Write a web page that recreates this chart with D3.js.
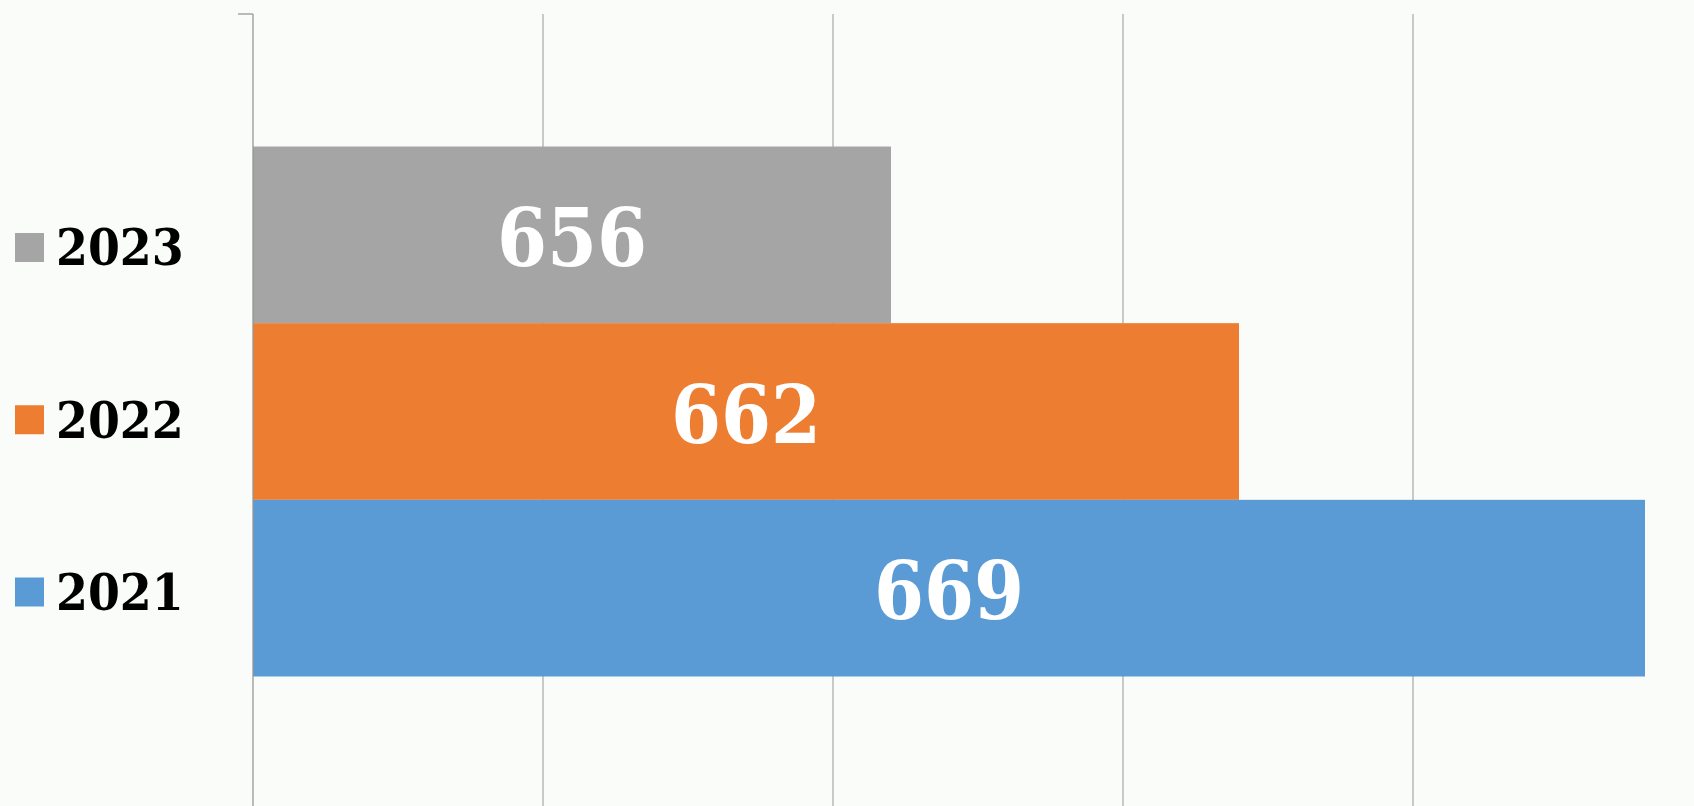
<!DOCTYPE html>
<html>
<head>
<meta charset="utf-8">
<script src="https://cdn.jsdelivr.net/npm/d3@7"></script>
<style>
    html, body { margin: 0; padding: 0; background: #fafcfa; overflow: hidden; }
    svg { display: block; }
    .lbl { font-family: "DejaVu Serif Condensed", "DejaVu Serif", serif; font-stretch: condensed; font-weight: bold; }
</style>
</head>
<body>
<svg id="chart" width="1694" height="806"></svg>
<script>
// chart data
const series = ['2023', '2022', '2021'];
const values = [656, 662, 669];
const colors = ['#a5a5a5', '#ed7d31', '#5b9bd5'];
const xTicks = [645, 650, 655, 660, 665, 670];

drawBars();

function drawBars() {
    var svg = d3.select("#chart"),
        margin = {top: 14, left: 253},
        plotBottom = 809;

    // set the ranges (58px per unit, chart is cropped on the right and bottom)
    var x = d3.scaleLinear()
        .domain([xTicks[0], xTicks[xTicks.length - 1]])
        .range([margin.left, margin.left + 25 * 58]);

    var y = d3.scaleBand()
        .domain(series)
        .range([margin.top, plotBottom])
        .paddingInner(0)
        .paddingOuter(0.75);

    // vertical gridlines
    svg.append("g")
        .selectAll("line")
        .data(xTicks.slice(1))
        .enter().append("line")
        .attr("x1", d => x(d)).attr("x2", d => x(d))
        .attr("y1", margin.top).attr("y2", plotBottom)
        .attr("stroke", "#adadad")
        .attr("stroke-width", 1.3);

    // bars
    svg.selectAll(".bar")
        .data(values)
        .enter().append("rect")
        .attr("class", "bar")
        .attr("x", x(xTicks[0]))
        .attr("y", (d, i) => y(series[i]))
        .attr("width", d => x(d) - x(xTicks[0]))
        .attr("height", y.bandwidth())
        .attr("fill", (d, i) => colors[i]);

    // category axis line with the tick at the top
    svg.append("line")
        .attr("x1", x(xTicks[0])).attr("x2", x(xTicks[0]))
        .attr("y1", margin.top).attr("y2", plotBottom)
        .attr("stroke", "#969696")
        .attr("stroke-width", 1.3);
    svg.append("line")
        .attr("x1", x(xTicks[0]) - 15).attr("x2", x(xTicks[0]))
        .attr("y1", margin.top).attr("y2", margin.top)
        .attr("stroke", "#969696")
        .attr("stroke-width", 1.3);

    // value labels
    svg.selectAll(".val")
        .data(values)
        .enter().append("text")
        .attr("class", "lbl")
        .attr("x", d => (x(xTicks[0]) + x(d)) / 2)
        .attr("y", (d, i) => y(series[i]) + y.bandwidth() / 2)
        .attr("dy", "0.39em")
        .attr("text-anchor", "middle")
        .attr("fill", "#ffffff")
        .style("font-size", "80px")
        .text(d => d);

    // legend on the left
    var ly = d3.scalePoint().domain(series).range([247.5, 592]);
    var legend = svg.append("g");
    series.forEach(function(s, i) {
        legend.append("rect")
            .attr("x", 15)
            .attr("y", ly(s) - 14.5)
            .attr("width", 29)
            .attr("height", 29)
            .attr("fill", colors[i]);
        legend.append("text")
            .attr("class", "lbl")
            .attr("x", 56)
            .attr("y", ly(s))
            .attr("dy", "0.35em")
            .attr("fill", "#000000")
            .style("font-size", "51px")
            .text(s);
    });
}
</script>
</body>
</html>
